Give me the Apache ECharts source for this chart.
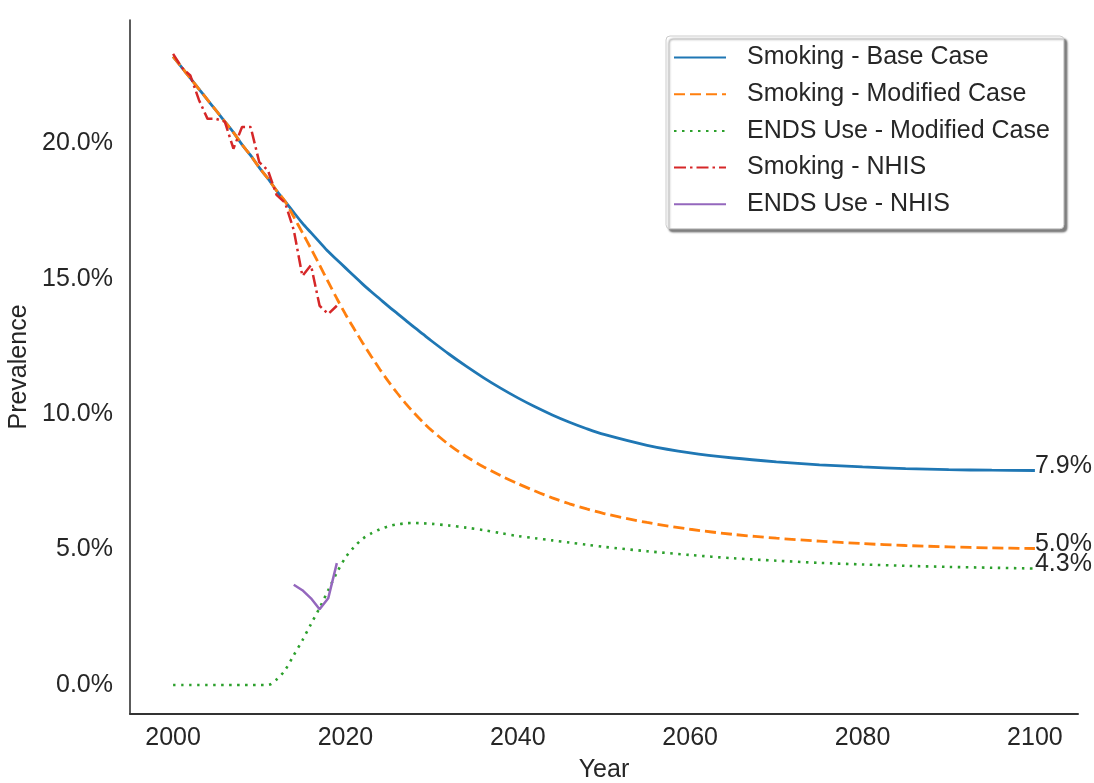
<!DOCTYPE html>
<html>
<head>
<meta charset="utf-8">
<script src="https://cdn.jsdelivr.net/npm/echarts@6/dist/echarts.min.js"></script>
<style>
  html, body { margin: 0; padding: 0; background: #ffffff; }
  #chart { width: 1094px; height: 783px; }
</style>
</head>
<body>
<div id="chart"></div>
<script>
// Model projection years (annual to 2030, then every 2 years to 2050, then every 5 years)
const modelYears = [
  2000, 2001, 2002, 2003, 2004, 2005, 2006, 2007, 2008, 2009,
  2010, 2011, 2012, 2013, 2014, 2015, 2016, 2017, 2018, 2019,
  2020, 2021, 2022, 2023, 2024, 2025, 2026, 2027, 2028, 2029, 2030,
  2032, 2034, 2036, 2038, 2040, 2042, 2044, 2046, 2048, 2050,
  2055, 2060, 2065, 2070, 2075, 2080, 2085, 2090, 2095, 2100
];

// Smoking prevalence (%), base case
const smokingBase = [
  23.2, 22.8, 22.4, 22.0, 21.6, 21.2, 20.8, 20.4, 19.95, 19.55,
  19.1, 18.7, 18.25, 17.85, 17.45, 17.05, 16.7, 16.35, 16.0, 15.7,
  15.4, 15.1, 14.8, 14.52, 14.25, 13.98, 13.72, 13.46, 13.2, 12.95, 12.7,
  12.22, 11.77, 11.35, 10.96, 10.6, 10.27, 9.97, 9.7, 9.46, 9.25,
  8.85, 8.57, 8.38, 8.24, 8.13, 8.05, 7.99, 7.95, 7.93, 7.92
];

// Smoking prevalence (%), modified case
const smokingModified = [
  23.2, 22.8, 22.4, 22.0, 21.6, 21.2, 20.8, 20.4, 19.95, 19.55,
  19.1, 18.7, 18.25, 17.85, 17.28, 16.7, 16.11, 15.5, 14.88, 14.27,
  13.69, 13.15, 12.63, 12.13, 11.65, 11.2, 10.78, 10.39, 10.03, 9.7, 9.4,
  8.875, 8.435, 8.06, 7.73, 7.435, 7.16, 6.91, 6.69, 6.5, 6.33,
  6.0, 5.75, 5.56, 5.42, 5.31, 5.22, 5.15, 5.1, 5.06, 5.04
];

// ENDS use prevalence (%), modified case
const endsModified = [
  0, 0, 0, 0, 0, 0, 0, 0, 0, 0,
  0, 0, 0.2, 0.55, 1.1, 1.65, 2.25, 2.85, 3.5, 4.15,
  4.7, 5.1, 5.4, 5.6, 5.75, 5.86, 5.93, 5.97, 5.98, 5.97, 5.95,
  5.89, 5.81, 5.72, 5.61, 5.5, 5.42, 5.34, 5.26, 5.18, 5.1,
  4.94, 4.8, 4.68, 4.59, 4.51, 4.45, 4.4, 4.36, 4.33, 4.3
];

// NHIS survey estimates (%)
const nhisYears = [
  2000, 2001, 2002, 2003, 2004, 2005, 2006, 2007, 2008, 2009,
  2010, 2011, 2012, 2013, 2014, 2015, 2016, 2017, 2018, 2019
];
const smokingNhis = [
  23.3, 22.8, 22.5, 21.6, 20.9, 20.9, 20.8, 19.8, 20.6, 20.6,
  19.3, 19.0, 18.1, 17.8, 16.8, 15.1, 15.5, 14.0, 13.7, 14.0
];
const endsNhisYears = [2014, 2015, 2016, 2017, 2018, 2019];
const endsNhis = [3.7, 3.5, 3.2, 2.8, 3.2, 4.5];

// Axis tick labels
const xTicks = [2000, 2020, 2040, 2060, 2080, 2100];
const yTicks = [0, 5, 10, 15, 20];

const FONT = '"Liberation Sans", Arial, Helvetica, sans-serif';
const TEXT = '#262626';
const SPINE = '#333333';
const FS = 25;

function pairs(xs, ys) { return xs.map((x, i) => [x, ys[i]]); }

const endLabel = {
  show: true,
  formatter: p => p.value[1].toFixed(1) + '%',
  color: TEXT,
  fontSize: FS,
  fontFamily: FONT,
  distance: 0,
  verticalAlign: 'bottom',
  lineHeight: FS,
  offset: [0, 8]
};

const chart = echarts.init(document.getElementById('chart'), null, { renderer: 'canvas' });

chart.setOption({
  animation: false,
  backgroundColor: '#ffffff',
  textStyle: { fontFamily: FONT },
  grid: { left: 130, right: 16, top: 20, bottom: 69, containLabel: false, outerBoundsMode: 'none' },
  xAxis: {
    type: 'value',
    min: 1995,
    max: 2105,
    name: 'Year',
    nameLocation: 'middle',
    nameGap: 44,
    nameTextStyle: { fontSize: FS, color: TEXT, fontFamily: FONT },
    axisLine: { show: true, onZero: false, lineStyle: { color: SPINE, width: 2 } },
    axisTick: { show: false },
    splitLine: { show: false },
    axisLabel: {
      customValues: xTicks,
      fontSize: FS,
      color: TEXT,
      fontFamily: FONT,
      margin: 12,
      formatter: v => String(v)
    }
  },
  yAxis: {
    type: 'value',
    min: -1.07,
    max: 24.55,
    name: 'Prevalence',
    nameLocation: 'middle',
    nameGap: 92,
    nameRotate: 90,
    nameTextStyle: { fontSize: FS, color: TEXT, fontFamily: FONT },
    axisLine: { show: true, onZero: false, lineStyle: { color: SPINE, width: 1.6 } },
    axisTick: { show: false },
    splitLine: { show: false },
    axisLabel: {
      customValues: yTicks,
      fontSize: FS,
      color: TEXT,
      fontFamily: FONT,
      margin: 17,
      formatter: v => v.toFixed(1) + '%'
    }
  },
  legend: {
    orient: 'vertical',
    left: 666,
    top: 36,
    itemWidth: 52,
    itemHeight: 14,
    itemGap: 11.7,
    padding: [9, 14, 12, 7],
    backgroundColor: '#ffffff',
    borderColor: '#cccccc',
    borderWidth: 1,
    borderRadius: 4,
    shadowColor: 'rgba(0,0,0,0.5)',
    shadowBlur: 2,
    shadowOffsetX: 3,
    shadowOffsetY: 3,
    itemStyle: { opacity: 0 },
    textStyle: { fontSize: FS, fontFamily: FONT, color: TEXT, lineHeight: FS, padding: [0, 0, 0, 16] },
    data: ['Smoking - Base Case', 'Smoking - Modified Case', 'ENDS Use - Modified Case', 'Smoking - NHIS', 'ENDS Use - NHIS']
  },
  series: [
    {
      name: 'Smoking - Base Case',
      type: 'line',
      data: pairs(modelYears, smokingBase),
      showSymbol: false,
      symbol: 'none',
      smooth: 0.3,
      color: '#1f77b4',
      lineStyle: { width: 2.8, color: '#1f77b4' },
      endLabel: endLabel
    },
    {
      name: 'Smoking - Modified Case',
      type: 'line',
      data: pairs(modelYears, smokingModified),
      showSymbol: false,
      symbol: 'none',
      smooth: 0.3,
      color: '#ff7f0e',
      lineStyle: { width: 2.8, color: '#ff7f0e', type: [11, 5] },
      endLabel: endLabel
    },
    {
      name: 'ENDS Use - Modified Case',
      type: 'line',
      data: pairs(modelYears, endsModified),
      showSymbol: false,
      symbol: 'none',
      smooth: 0.3,
      color: '#2ca02c',
      lineStyle: { width: 2.6, color: '#2ca02c', type: [2.5, 5.5] },
      endLabel: endLabel
    },
    {
      name: 'Smoking - NHIS',
      type: 'line',
      data: pairs(nhisYears, smokingNhis),
      showSymbol: false,
      symbol: 'none',
      color: '#d62728',
      lineStyle: { width: 2.5, color: '#d62728', type: [12, 4, 2.5, 4] }
    },
    {
      name: 'ENDS Use - NHIS',
      type: 'line',
      data: pairs(endsNhisYears, endsNhis),
      showSymbol: false,
      symbol: 'none',
      color: '#9467bd',
      lineStyle: { width: 2.5, color: '#9467bd' }
    }
  ]
});
</script>
</body>
</html>
